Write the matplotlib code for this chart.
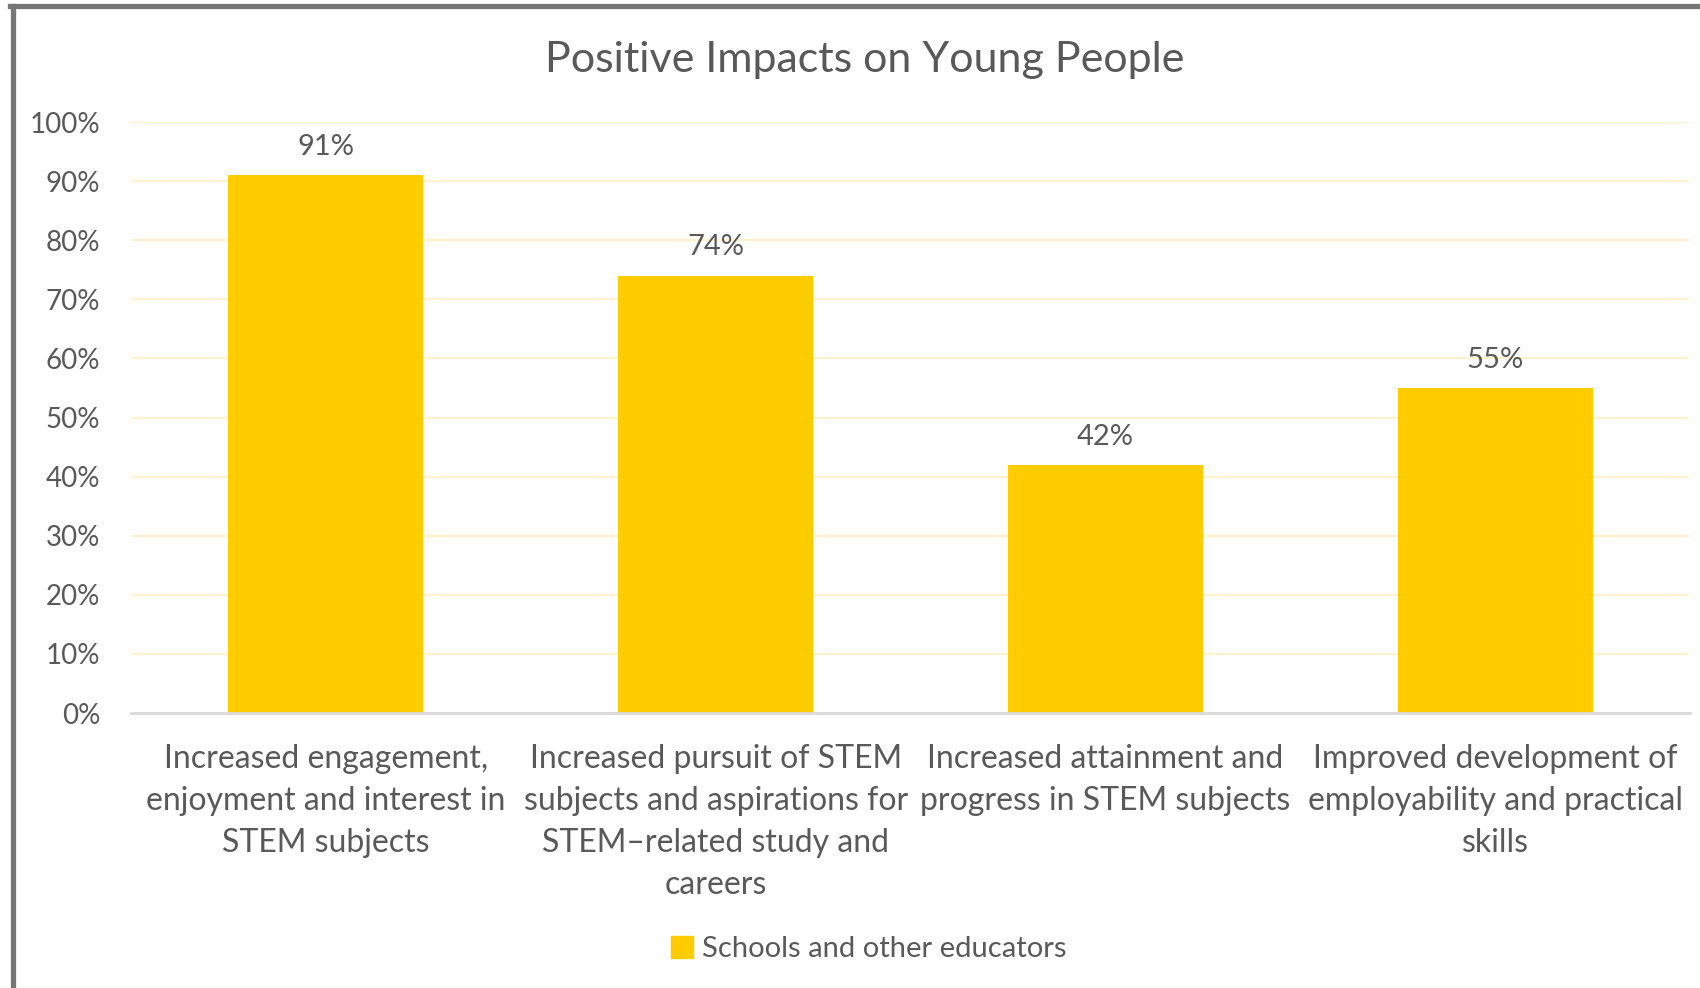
import matplotlib
matplotlib.use("Agg")
import matplotlib.pyplot as plt
from matplotlib.lines import Line2D
from matplotlib.patches import Patch

# data
categories = [
    "Increased engagement,\nenjoyment and interest in\nSTEM subjects",
    "Increased pursuit of STEM\nsubjects and aspirations for\nSTEM\u2013related study and\ncareers",
    "Increased attainment and\nprogress in STEM subjects",
    "Improved development of\nemployability and practical\nskills",
]
values = [0.91, 0.74, 0.42, 0.55]
value_labels = ["91%", "74%", "42%", "55%"]
yticks = [i / 10 for i in range(11)]
ytick_labels = [f"{i * 10}%" for i in range(11)]
series_name = "Schools and other educators"

plt.rcParams['font.family'] = ['Lato', 'DejaVu Sans']
txt = '#595959'
bar_col = '#FFCC00'

fig = plt.figure(figsize=(17, 9.88), dpi=100)
ax = fig.add_axes([131 / 1700, 1 - 713 / 988, (1690 - 131) / 1700, (713 - 122) / 988])

x = list(range(len(values)))
ax.bar(x, values, width=0.5, color=bar_col, zorder=3)
for xi, v, lab in zip(x, values, value_labels):
    ax.annotate(lab, (xi, v), xytext=(0, 11), textcoords='offset points',
                ha='center', va='bottom', fontsize=21, color=txt)

ax.set_xlim(-0.5, len(values) - 0.5)
ax.set_ylim(0, 1)
ax.set_yticks(yticks)
ax.set_yticklabels(ytick_labels, fontsize=20, color=txt)
ax.set_xticks(x)
ax.set_xticklabels(categories, fontsize=23, color=txt, linespacing=1.5, va='top')
ax.tick_params(axis='both', length=0)
ax.tick_params(axis='y', pad=22)
ax.tick_params(axis='x', pad=22)
ax.yaxis.grid(True, color='#FFF2CC', linewidth=1.5, zorder=0)
for s in ['top', 'right', 'left']:
    ax.spines[s].set_visible(False)
ax.spines['bottom'].set_color('#D9D9D9')
ax.spines['bottom'].set_linewidth(2)
ax.spines['bottom'].set_zorder(4)

fig.text(865 / 1700, 1 - 60 / 988, "Positive Impacts on Young People",
         ha='center', va='center', fontsize=31, color=txt)

fig.legend(handles=[Patch(color=bar_col, label=series_name)],
           loc='center', bbox_to_anchor=(869 / 1700, 1 - 949 / 988),
           frameon=False, fontsize=21, labelcolor=txt,
           handlelength=0.75, handleheight=0.75, handletextpad=0.3)

# grey frame (left and top edges)
fig.add_artist(Line2D([12.5 / 1700, 12.5 / 1700], [0, 1 - 6.5 / 988],
                      transform=fig.transFigure, color='#767676', linewidth=3.8))
fig.add_artist(Line2D([10 / 1700, 1], [1 - 6.5 / 988, 1 - 6.5 / 988],
                      transform=fig.transFigure, color='#767676', linewidth=3.8))

fig.savefig("out.png", dpi=100)
